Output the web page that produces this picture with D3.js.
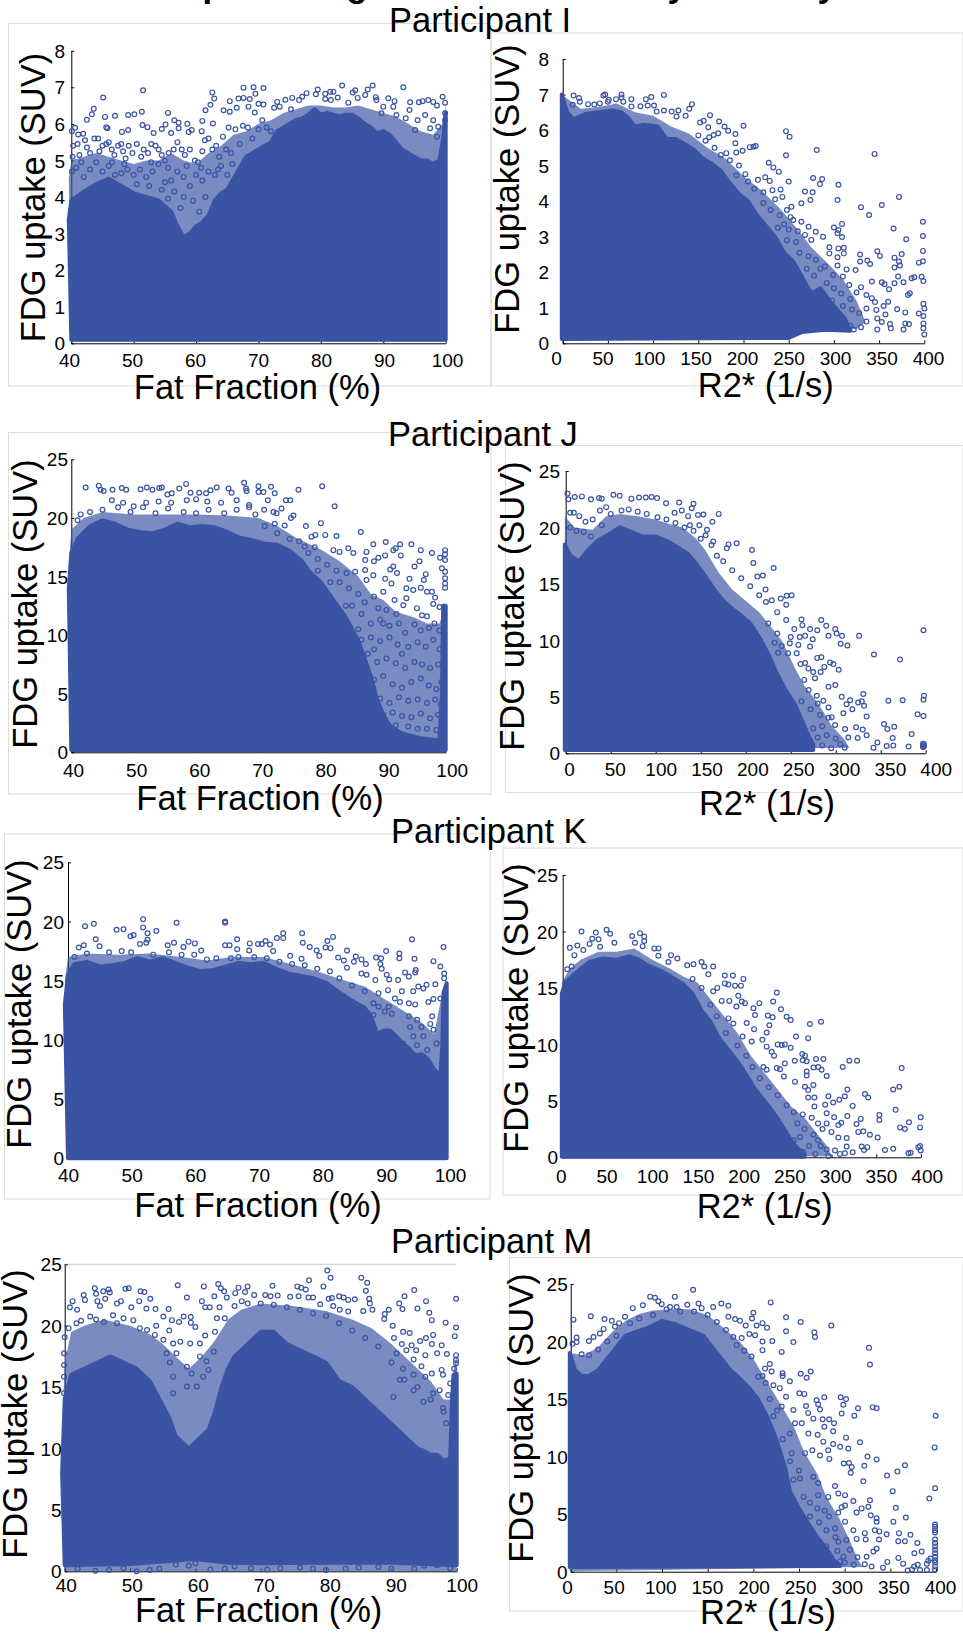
<!DOCTYPE html>
<html><head><meta charset="utf-8">
<script src="https://cdn.jsdelivr.net/npm/d3@7"></script>
<style>html,body{margin:0;padding:0;background:#fff;overflow:hidden}svg{display:block}text{font-family:"Liberation Sans",Arial,sans-serif;fill:#000}</style>
</head><body><svg id="c" width="963" height="1634"></svg>
<script>
const fatTicks=[40,50,60,70,80,90,100];
const r2Ticks=[0,50,100,150,200,250,300,350,400];
const suvTicksI=[0,1,2,3,4,5,6,7,8];
const suvTicksOther=[0,5,10,15,20,25];
const participantNames=["Participant I","Participant J","Participant K","Participant M"];
const titleFragments=["p","g","y","y"];

// dense (fully overplotted) regions: upper edge and floor
const iFatEdge=[[39.6,3.4],[40,3.9],[42,4.15],[44,4.35],[46,4.5],[48,4.3],[50,4.1],[52,4.0],[54,3.9],[56,3.6],[57,3.2],[58,2.9],[59,3.0],[60,3.2],[61,3.3],[62,3.5],[63,3.9],[64,4.1],[65,4.2],[66,4.5],[67,4.8],[68,5.1],[69,5.2],[70,5.3],[71,5.4],[72,5.5],[73,5.8],[74,5.9],[75,6.0],[76,6.1],[77,6.15],[78,6.25],[79,6.4],[80,6.25],[81,6.3],[82,6.25],[83,6.2],[84,6.25],[85,6.25],[86,6.15],[87,6.0],[88,5.9],[89,5.75],[90,5.8],[91,5.7],[92,5.5],[93,5.3],[94,5.2],[95,5.1],[96,5.0],[97,5.0],[98,4.9],[99,5.0],[99.6,5.6],[100,6.3]];
const iFatFloor=[[100,0.1],[40,0.1]];
const iR2Edge=[[-1,7.0],[5,6.5],[12,6.3],[25,6.45],[40,6.5],[55,6.55],[65,6.5],[72,6.35],[80,6.1],[90,6.15],[105,6.1],[115,5.75],[125,5.75],[135,5.6],[145,5.45],[155,5.2],[165,5.05],[175,4.85],[185,4.5],[195,4.2],[205,4.0],[215,3.6],[225,3.3],[235,3.0],[245,2.55],[255,2.3],[265,1.85],[275,1.4],[285,1.55],[295,1.2],[305,0.9],[312,0.7],[318,0.35]];
const iR2Floor=[[290,0.38],[265,0.32],[250,0.15],[-1,0.12]];
const jFatEdge=[[39.6,14],[40,17],[41,18.2],[43,19.3],[45,19.8],[47,19.5],[49,19],[51,18.8],[53,18.7],[55,19],[57,19.5],[59,19.2],[61,19.3],[63,19.2],[65,18.8],[67,18.3],[69,18.1],[71,17.8],[73,17.7],[75,17.2],[77,16.3],[78,15.5],[79,15],[80,14.5],[82,13],[84,11.5],[85,10.5],[86,9.5],[87,8],[88,6.5],[89,4.5],[90,3.2],[91,2.3],[93,1.6],[96,1.2],[99,1],[99.4,5],[99.6,12.5],[100,12.5]];
const jFatFloor=[[100,0.2],[40,0.2]];
const jR2Edge=[[-1,18.5],[5,17.5],[15,17],[25,18],[35,18.8],[50,19.5],[60,20],[70,19.7],[85,19.2],[100,19.2],[115,18.7],[125,18.2],[135,17.7],[145,16.8],[155,15.7],[165,14.5],[175,13.5],[185,12.8],[195,12.2],[205,11.5],[215,10.3],[225,8.8],[235,7],[245,5.5],[255,4.3],[262,3],[270,1.5],[275,0.8]];
const jR2Floor=[[275,0.3],[-1,0.3]];
const kFatEdge=[[39.5,13],[40,15.5],[41,16.4],[43,16.6],[45,16.2],[47,16.3],[49,16.5],[51,16.9],[53,16.6],[55,16.9],[57,16.5],[59,16.1],[61,15.8],[63,15.9],[65,16.2],[67,16.5],[69,16.4],[71,16.5],[73,16],[75,15.6],[77,15.4],[79,15.2],[81,14.8],[83,14],[85,13.3],[87,12.7],[88,12],[89,10.5],[90,10.8],[91,10.8],[92,10.3],[93,9.7],[94,9.3],[95,8.7],[96,8.8],[97,8.4],[98,7.5],[99,7],[99.3,9.5],[99.5,14],[100,14.8]];
const kFatFloor=[[100,0],[40,0]];
const kR2Edge=[[-1,14.5],[3,15.5],[10,16],[20,16.7],[30,17.3],[45,17.6],[60,17.5],[75,17.8],[85,17.5],[95,17],[110,16.5],[125,15.8],[135,15.3],[145,14.5],[155,13],[165,12],[175,10.5],[185,9.5],[195,8.5],[205,7.3],[215,6],[225,5],[235,4],[245,2.8],[255,1.5],[262,0.8],[270,0.3]];
const kR2Floor=[[270,0.05],[-1,0.05]];
const mFatEdge=[[39.6,8],[40,14],[41,16],[43,16.5],[45,17],[47,17.5],[49,17],[51,16.5],[53,15.5],[55,13.5],[56,12.5],[57,11],[58,10.5],[59,10],[60,10.5],[61,11],[62,11.5],[63,13],[64,15],[65,16.5],[66,17.5],[68,18.5],[70,19.5],[72,19.5],[74,18.5],[76,18],[78,17.5],[80,17],[82,15.5],[84,15],[86,14],[88,13],[90,12],[92,11],[93,10.5],[94,10],[95,9.8],[96,9.5],[97,9.5],[98,9],[99,9.2],[99.3,14],[99.5,16],[100,16.1]];
const mFatFloor=[[100,0.5],[90,0.7],[80,0.7],[70,0.65],[65,0.7],[60,1],[55,0.8],[50,0.6],[40,0.5]];
const mR2Edge=[[-1,19],[5,17.5],[12,17],[20,17],[30,17.5],[40,18.5],[50,19.5],[60,20.5],[70,20.8],[85,21.2],[100,21.8],[115,21.5],[130,21],[145,20.5],[155,19.5],[165,18.5],[175,17.5],[185,16.8],[195,16],[205,15],[215,13.5],[225,11.5],[235,9],[240,7],[250,5.5],[260,4.2],[270,3],[280,2],[290,0.8],[295,0.6]];
const mR2Floor=[[295,0.5],[-1,0.4]];

// speckled, partly overplotted regions around the dense ones
const iFatCloud=[[39.6,4.5],[40,5.0],[42,5.1],[44,5.2],[46,5.1],[48,5.0],[50,4.9],[52,5.0],[54,5.0],[56,5.2],[58,5.0],[60,4.9],[62,5.2],[64,5.4],[66,5.7],[68,5.8],[70,6.0],[72,6.1],[74,6.3],[76,6.4],[78,6.5],[80,6.5],[82,6.45],[84,6.45],[86,6.5],[88,6.4],[90,6.3],[92,6.2],[94,6.0],[96,5.8],[98,5.7],[99.5,6.0],[100,6.5],[100,0.05],[40,0.05]];
const iR2Cloud=[[-1,7],[20,6.6],[40,6.65],[60,6.75],[80,6.5],[100,6.4],[120,6.1],[140,5.9],[160,5.5],[180,5.2],[200,4.7],[220,4.3],[240,3.8],[260,3.2],[275,2.7],[295,2.2],[310,1.8],[325,1.2],[335,0.6],[325,0.4],[-1,0.1]];
const jFatCloud=[[39.6,16],[40,19],[42,20],[45,20.5],[50,20.3],[55,20.3],[60,20.3],[65,20.2],[70,20],[73,19.3],[76,18.3],[80,17.3],[83,16.3],[86,15],[88,13.5],[90,13],[92,12],[95,11.5],[97,11],[99,11],[100,12.5],[100,0.1],[40,0.1]];
const jR2Cloud=[[-1,21],[10,20],[30,19.8],[45,21],[60,21.2],[80,21],[100,20.7],[115,20.3],[130,20],[145,19],[155,18],[170,16],[185,14.5],[200,13.5],[215,12.5],[225,11.5],[240,10],[255,7.5],[265,6],[280,4.5],[295,2.5],[310,1.2],[315,0.5],[-1,0.2]];
const kFatCloud=[[39.5,15],[40,17],[43,17.3],[48,17.2],[53,17.3],[58,17],[62,16.7],[66,17],[71,17],[76,16.3],[80,15.7],[84,15],[87,14.5],[90,13.5],[93,12.5],[96,11.5],[98,10.5],[99.5,14.5],[100,0],[40,0]];
const kR2Cloud=[[-1,15.5],[8,16.7],[20,17.5],[40,18.2],[60,18.2],[80,18.5],[100,17.5],[120,16.7],[135,16],[150,15.5],[165,14],[180,12.5],[195,11],[210,9],[225,7.5],[240,6],[255,4.5],[270,3.5],[285,2],[295,1],[300,0.1],[-1,0.02]];
const mFatCloud=[[39.6,11],[40,17],[41,19.5],[43,20],[46,20.5],[50,20],[53,19.3],[55,18.5],[57,17.5],[59,16.5],[61,17.5],[63,18.8],[65,20.5],[67,21.3],[70,21.8],[75,21.6],[80,21.2],[84,20.5],[87,19.8],[90,18.5],[93,17],[96,15.5],[98,14],[99,14],[99.5,16.2],[100,17.7],[100,0],[40,0]];
const mR2Cloud=[[-1,19],[15,18.8],[30,19.5],[45,20.8],[60,21.8],[75,22.4],[90,22.7],[110,22.8],[130,22.8],[150,22.3],[170,21],[185,20],[200,18.5],[215,16.5],[230,14.5],[245,12.5],[255,10.5],[270,8.5],[280,6.5],[295,4.5],[305,2.8],[315,1],[320,0.4],[-1,0.05]];

// individually visible circles
const iFatPoints=[[51.5,6.92],[45.1,6.72],[43.6,6.41],[43.3,6.26],[42.5,6.11],[45.4,6.19],[47,6.22],[49.1,6.24],[50.1,6.26],[51.3,6.33],[45.6,5.91],[45.8,5.88],[40.6,5.89],[40.1,5.8],[41.1,5.71],[41.9,5.73],[48.1,5.78],[49.1,5.83],[51.4,5.97],[52.2,5.91],[53.2,5.75],[54.5,5.86],[55.1,5.98],[55.5,6.3],[56.5,6.1],[57.2,6.03],[57.2,5.88],[58.6,6.0],[59.3,5.83],[58.8,5.78],[61,6.08],[60.9,5.8],[61.5,6.37],[62.3,6.52],[62.6,6.86],[62.9,6.69],[62.7,6.01],[64.4,6.37],[65.4,6.62],[65.4,6.33],[66.5,6.44],[66.8,6.69],[67.6,6.99],[67.6,6.71],[68.6,6.68],[69.2,7.0],[69.5,6.82],[70.8,6.98],[70.8,6.53],[70,6.55],[68.4,6.47],[69.4,6.31],[72.5,6.44],[73,6.6],[73.4,6.47],[74.3,6.66],[75.4,6.71],[75.2,6.4],[76.5,6.65],[77,6.74],[77.7,6.84],[79.2,6.81],[79.5,6.94],[80.7,6.82],[81.5,6.88],[82,6.88],[81.6,6.65],[80.7,6.68],[82.7,6.72],[83.4,7.05],[84.4,6.58],[85.1,6.86],[85.5,6.92],[85.9,6.71],[87.1,6.79],[87.5,6.94],[88.3,7.05],[88.8,6.73],[88.9,6.65],[90.8,6.7],[91.8,6.62],[91.6,6.47],[93.2,7.0],[94.3,6.59],[95.7,6.59],[96.3,6.62],[97.2,6.65],[98,6.6],[98.6,6.5],[99.5,6.74],[99.9,6.58],[99.9,6.29],[99.9,6.1],[95.5,6.1],[96.7,6.24],[94.2,6.38],[93.6,6.15],[92.1,6.24],[90,6.47],[89.7,6.29],[98,6.1],[98.8,5.92],[97.5,5.88],[95.1,5.83],[98.6,5.65],[40.3,5.4],[41,5.45],[40.2,5.1],[41.3,5.15],[40.1,4.7],[40.8,4.8],[41.6,4.95],[42.2,5.55],[42.5,5.35],[43,5.2],[43.7,5.6],[44.3,5.6],[44.5,5.25],[45,5.4],[45.6,5.45],[46,5.5],[46.5,5.3],[46.9,5.15],[47.5,5.4],[48,5.45],[48.3,5.25],[48.7,5.05],[49.2,5.4],[49.8,5.2],[50.5,5.45],[51.2,5.1],[51.6,5.3],[52.3,5.2],[52.8,5.45],[53.5,5.4],[54,5.3],[54.5,5.15],[55,5.0],[55.6,5.2],[56,5.75],[56.4,5.3],[57,5.5],[57.7,5.3],[58.2,5.15],[59,5.3],[59.8,5],[60.3,4.95],[61,5.25],[61.4,5.55],[62,5.6],[62.6,5.3],[63.2,5.4],[63.7,5.1],[64.3,5.65],[64.8,5.3],[65.2,5.9],[65.6,5.2],[66.3,5.85],[67,5.45],[67.5,5.95],[68.3,5.9],[69,5.6],[70,5.85],[70.6,6.1],[71.3,5.9],[72,5.8],[42,4.55],[43,4.75],[44,4.95],[45,4.7],[46,4.85],[47,4.6],[48,4.65],[49,4.75],[50,4.6],[51,4.75],[52,4.55],[53,4.7],[54,4.9],[55,4.4],[56,4.45],[57,4.7],[58,4.55],[59,4.3],[60,4.6],[61,4.45],[62,4.7],[63,4.6],[64,4.85],[65,4.6],[54.5,4.2],[56.5,4.15],[58,4],[59.5,3.9],[60.5,3.6],[61.5,4.0],[57.5,3.7],[55.5,3.95],[52.5,4.3],[50.5,4.35],[46.5,4.95],[48.5,4.9],[52.8,4.95],[55.5,4.8],[58.5,4.85],[60.8,4.8],[63.5,4.75],[65.8,4.9]];
const iR2Points=[[12,6.97],[18,6.9],[11,6.71],[19,6.8],[28,6.73],[35,6.72],[41,6.75],[45,6.97],[47,7.0],[51,6.85],[50,6.8],[59,6.87],[65,7.0],[65,6.92],[67,6.8],[76,6.87],[76,6.66],[86,6.67],[92,6.87],[98,6.93],[94,6.69],[101,6.69],[112,6.99],[104,6.52],[112,6.55],[120.5,6.52],[128,6.55],[126,6.38],[136,6.4],[140,6.6],[143,6.73],[163,6.42],[156,6.26],[152,6.21],[161,6.08],[173,6.24],[172,5.91],[179,6.1],[183,5.98],[191,5.89],[200,6.12],[191,5.63],[167,5.86],[162,5.8],[207,5.52],[211,5.53],[213.5,5.55],[199,5.42],[192,5.37],[181,5.35],[247,5.97],[251,5.81],[247,5.29],[281,5.44],[345,5.33],[228,5.08],[233,4.95],[239,4.83],[250,4.55],[224,4.67],[229,4.57],[216,4.6],[202,4.76],[192,4.73],[277,4.65],[287,4.62],[284.5,4.48],[305,4.46],[304,4.03],[330,3.83],[339,3.61],[353,3.89],[372,4.12],[268,4.27],[276.5,4.25],[274,4.03],[264,3.94],[253,3.84],[241,4.33],[232,4.31],[243,4.12],[248,3.75],[264,3.42],[255,3.47],[272,3.28],[280,3.14],[288,3.0],[275,2.91],[300,3.26],[305,3.19],[309,3.36],[304,3.1],[309,2.99],[366,3.23],[380,2.93],[398.5,3.42],[398.5,3.02],[398.5,2.6],[398.5,2.31],[394,2.27],[348,2.59],[351,2.46],[367,2.41],[375,2.51],[372,2.3],[367,2.13],[373,2.19],[329,2.5],[329,2.3],[337,2.33],[340,2.23],[295,2.7],[305,2.67],[311,2.69],[311,2.53],[295,2.53],[304,2.42],[290,2.16],[304,2.19],[324,2.06],[314,2.08],[299,1.92],[310,1.88],[371,1.88],[377,1.72],[386,1.83],[389,1.86],[397,1.87],[399,1.75],[367,1.69],[342,1.74],[353,1.72],[356,1.66],[361,1.52],[330,1.58],[317,1.64],[325,1.43],[382,1.36],[384,1.41],[336,1.36],[342,1.27],[345.5,1.16],[360,1.17],[355,1.05],[399,1.11],[400,0.98],[370,0.96],[379,0.87],[394,0.84],[357,0.81],[399,0.77],[347,0.94],[336,0.98],[348,0.7],[353,0.6],[362,0.54],[379,0.56],[383,0.54],[399,0.56],[399,0.42],[400,0.25],[377,0.39],[348,0.39],[363,0.42],[330,0.45],[322,0.39],[336,0.61],[150,5.85],[158,5.7],[168,5.5],[175,5.3],[185,5.15],[195,5.0],[205,4.55],[212,4.35],[222,4.25],[235,4.05],[222,3.95],[230,3.75],[240,3.6],[252,3.55],[260,3.15],[250,3.2],[245,3.35],[238,3.25],[268,3.05],[258,2.85],[248,2.9],[262,2.55],[272,2.45],[280,2.35],[285,2.1],[270,2.1],[278,1.9],[292,1.7],[300,1.55],[308,1.4],[318,1.25],[288,1.35],[298,1.2],[310,1.05],[320,0.95],[328,0.85],[300,0.75],[312,0.6],[318,0.5],[298,0.5],[285,0.85],[265,0.9],[275,0.55]];
const jFatPoints=[[42.3,22.6],[44.4,22.75],[44.7,22.4],[45.2,22.3],[46.6,22.4],[48.1,22.55],[48.8,22.4],[51.1,22.45],[52.1,22.6],[53,22.4],[54.1,22.55],[54.5,22.6],[55.4,22],[56.1,22.1],[57.3,22.5],[58.4,22.9],[59.1,22.15],[60.5,22.15],[61.6,22.1],[62.3,22.35],[63.3,22.6],[65.2,22.5],[65.7,22.15],[67.7,23],[68,22.5],[68.1,22.3],[70,22.7],[70,22.2],[70.8,22.2],[72,22.65],[72.6,22.1],[76.4,22.4],[80.2,22.7],[82.2,21],[74.4,21.5],[75.1,21.5],[73.7,20.8],[71.5,21.5],[70.9,20.7],[72.4,20.5],[72.9,20.4],[75.6,20.2],[75.2,20],[80,19.55],[77.6,19.3],[74.2,19.35],[72.6,19.5],[86.4,18.8],[90.4,17.95],[88.4,17.75],[92.7,17.75],[94.5,17.75],[92,17.4],[91.6,17.25],[96,17.25],[97.8,17],[92.8,16.8],[90.3,16.8],[89.2,16.6],[88.5,16.3],[95.8,16.3],[95,15.85],[91.6,15.85],[91.1,15.6],[99.1,16.6],[99.9,17.25],[99.9,16.9],[99.9,16.4],[99.4,15.7],[99.9,15.4],[99.9,14.85],[99.9,14.4],[99.9,14.05],[96.8,15.2],[96.5,14.7],[94.2,14.8],[92.2,15.3],[90.3,14.8],[91.3,14.4],[88.4,15.1],[85.2,17],[84.4,17.4],[82.5,18.45],[80.7,18.55],[79.1,18.55],[78.5,18.4],[77.4,17.55],[82,17.25],[83,17.1],[85.5,15.4],[84.1,15.3],[87.3,17.1],[87.1,16.4],[87.1,15.55],[87.3,14.7],[93.7,14],[94.8,13.85],[96,14.05],[97,13.7],[97.8,13.7],[98.3,13.2],[93.7,13.15],[93.2,12.55],[98,12.65],[95.4,12.3],[96.2,11.7],[97,11.6],[99,12.4],[92.1,11.8],[90.5,12.15],[89.2,12.3],[85,12.5],[86.5,11.8],[88,11],[89.5,11.3],[91,10.8],[92.5,11],[93.5,10.2],[95,10.9],[96,10.4],[97.3,10.6],[98.2,11],[99,10.4],[88,9.8],[89.5,9.5],[91,9.8],[92.3,9.2],[94,9],[95.5,9.4],[96.8,9],[98,9.6],[99,8.8],[87.5,8.4],[89,7.7],[90.5,8],[92,7.6],[93.5,7.2],[95,7.7],[96.2,7.5],[97.5,7.2],[98.8,7.5],[87,6.4],[88.5,6.2],[90,6.5],[91.5,5.8],[93,5.5],[94.5,6],[96,6.3],[97.3,5.7],[98.5,5.4],[99.3,6],[88,4.7],[89.5,4.6],[91,4.2],[92.5,4.7],[94,4.4],[95.5,4.5],[97,4.2],[98.3,4.5],[99.2,4.1],[90,3.2],[91.5,3.4],[93,3.1],[94.5,3],[96,3.3],[97.5,2.9],[98.8,3.2],[92,2.3],[94,2.2],[95.5,2],[97,2],[98.5,1.9],[99.5,2.5],[78,17],[79.5,16.5],[81,16],[82.5,15.5],[83,14.5],[84.5,14],[86,13.5],[81.5,14.5],[79.5,15.5],[84,12.5],[86,10.5],[87,12.8],[88.5,13.3],[90,13.7],[91.8,13],[88.5,8.8],[90,11],[93,8.4],[86.5,9.6],[41,19.8],[41.5,20.3],[43,20.5],[45,20.7],[47.5,20.9],[49.5,20.5],[51.5,20.9],[53.5,20.4],[55.5,20.8],[58,20.5],[60,20.4],[62,20.7],[64.5,20.4],[66.5,20.7],[68.5,20.9],[69.5,20.3],[71,19.3],[73,18.7],[75,18.2],[76.5,18],[79,17.5],[46.5,21.5],[48.3,21.3],[50,21],[52,21.3],[54,21.4],[56,21.3],[58.5,21.5],[60,21.6],[61.8,21.4],[64,21.3],[66.5,21.5],[68.5,21.1]];
const jR2Points=[[2,23],[3,22.5],[10,22.7],[18,22.75],[28,22.5],[37,22.6],[40,22.55],[53,22.9],[60,22.8],[73,22.55],[81.5,22.65],[89,22.65],[95.5,22.7],[101.5,22.6],[111.5,22.15],[126,22.2],[142,22.1],[140,21.7],[129,21.5],[121,21.3],[136,21],[147,21.1],[153,21.15],[170,21.2],[163,20.5],[148.5,20.2],[138,20.2],[157,19.8],[155.5,19.3],[164,18.75],[162,18.45],[190,18.6],[181,18.5],[179,18.15],[207,18],[208.5,16.85],[231,16.4],[219,15.75],[213,15.65],[222,14.5],[239,13.7],[245.5,13.95],[251,14],[245,13.15],[229,13.55],[222.5,13.4],[262,11.85],[284,11.8],[263,11.35],[271.5,11],[279.5,10.9],[289.5,11.3],[299.5,11],[301,10.6],[307,10.4],[292,10.4],[326,10.4],[397.5,10.9],[274.5,10.1],[266,10.4],[260,10.3],[254,11],[305.5,9.7],[313,9.55],[271.5,9.45],[258.5,9.6],[249,9.75],[247,8.85],[342.5,8.75],[371.5,8.3],[279.5,8.45],[284,8.5],[256.7,8.85],[236,8.9],[266,8],[261,7.9],[293.7,8.05],[297.4,7.9],[287.4,7.65],[303.3,7.4],[283.3,7.2],[275,7.2],[269.6,7.5],[277,6.65],[292,5.9],[299.6,6.05],[306.7,5],[330.7,5.25],[316,4.7],[329,4.6],[325,4.5],[312,4.35],[331.5,4.2],[318.5,3.9],[334.4,3.25],[358.5,4.65],[374.4,4.7],[398,5.1],[397.5,4.75],[391,3.45],[397.5,3.3],[353.7,2.6],[365,2.35],[357.4,2.15],[322.6,2.3],[330,2.1],[334.4,1.6],[384.4,1.7],[363.3,1.35],[324.4,1.35],[342,0.5],[346.3,0.95],[356.7,0.65],[364,0.68],[381,0.6],[397,0.55],[397,0.7],[397,0.85],[398,0.6],[398,0.8],[314,1.4],[310.4,2.15],[299.3,2.5],[295.5,3.2],[308.5,3.55],[282.6,3.4],[279,5.1],[286.3,4.65],[292,4.05],[292,3.15],[5,21.3],[9,21.3],[15,21],[22,20.5],[30,20.7],[38,21.5],[45,21.8],[50,21.2],[62,21.5],[70,21.6],[80,21.4],[90,21.2],[102,20.9],[112,20.7],[122,20.4],[132,20],[142,19.7],[150,19],[5,20],[12,19.7],[20,19.6],[28,19.2],[40,20.2],[168,17.5],[175,17],[185,16.2],[195,15.5],[205,14.8],[215,14],[235,12.5],[245,11.8],[225,11.5],[235,10.6],[250,10.3],[240,9.5],[232,9.8],[265,6.5],[270,5.6],[280,4.4],[272,3.9],[262,4.6],[285,2.4],[275,2.2],[290,1.6],[300,1.3],[305,0.8],[285,0.7],[310,0.5],[295,0.45],[272,0.8],[280,1.4]];
const kFatPoints=[[42.7,19.6],[44.1,19.8],[47.7,19.3],[48.8,19.35],[51.9,20.2],[51.9,19.5],[49.9,18.75],[50.4,18.85],[44.4,18.5],[54,19.2],[52.6,19],[52.6,18.45],[57.2,19.9],[64.9,20],[64.9,19.9],[42.5,18],[41.7,17.8],[45,17.9],[51.4,18.1],[52.4,18.2],[55.8,18],[56.8,18.2],[58.3,17.85],[59.1,18.3],[60.1,18.15],[61.1,17.55],[64.9,18],[65.6,18],[66.8,18.5],[66.8,17.65],[68.8,18.15],[68.7,17.55],[70.1,18.1],[70.7,18.1],[71.3,18.35],[72,18.05],[73.1,18.6],[74.1,19],[74.1,18.6],[72.5,17.5],[77.1,19],[77.2,18.2],[78.3,17.85],[79.4,17.55],[81.1,18.35],[82,18.7],[80.8,17.8],[81.6,17.75],[84.2,17.55],[82.8,16.95],[83.7,16.7],[75.2,17.1],[77,16.85],[79.8,17.1],[85.6,17.05],[86.5,16.8],[85.3,16.6],[87.2,16.4],[84.2,16.1],[88.8,16.95],[89.6,16.9],[89.5,16.4],[89.7,16],[90.4,17.5],[92.5,17.3],[92.5,16.9],[94.5,18.5],[94.9,16.85],[95.1,15.9],[95,15.7],[93.4,15.7],[94,15.35],[97.9,16.65],[99,16.2],[99.5,17.85],[99.6,15.6],[99.6,15.2],[92.3,15.05],[90.9,15.1],[90.5,15.5],[88.7,15.05],[87.3,15.5],[86.5,15.6],[98.2,14.7],[96.8,14.65],[96.3,14.35],[95.5,14.5],[94.7,14.1],[92.9,14.1],[90.7,14.2],[89.2,13.95],[97.1,13.2],[97.9,13.45],[99,13.5],[95,13],[94,13.1],[92.6,13.2],[91.8,13.5],[90.8,12.8],[91.3,12.2],[90.2,12.4],[89.2,12.8],[88.4,13.1],[97.7,12],[97.4,11.35],[97.9,10.85],[96,11.1],[96.3,10.3],[95.3,11.7],[94,12],[94.2,11.1],[88.4,12.1],[87.6,11.4],[94.7,10.3],[93.1,9.7],[96.9,9.15],[95.3,9.55],[98.4,9.7],[41,17],[43,17.3],[46.5,17.4],[48.5,17.5],[50,17.4],[53.5,17.2],[56,17.4],[58,17.2],[60,17.2],[62,16.8],[63.5,16.9],[65.8,16.9],[67,17],[69.5,17],[71.5,16.9],[73.5,16.6],[75.5,16.4],[77.5,16.3],[79.5,16],[81.5,15.8],[83,15.2],[85,14.6],[87,14.1]];
const kR2Points=[[21,20],[37,19.9],[49,20.15],[53,19.8],[77.4,19.6],[86.3,19.85],[91,19.55],[80.7,19],[57.7,19],[33,19.35],[40,19.3],[30,18.9],[8,18.55],[16.4,18.75],[23,18.35],[41.7,18.65],[91,19.15],[89.3,18.7],[102.3,18.5],[107,18.5],[106.8,17.85],[13,17.9],[5,16.65],[10,16.9],[121,17.9],[128,17.6],[118,17.3],[155,17.3],[168,16.9],[158,16.9],[146,17.1],[139,17],[162.6,16.2],[181,16.1],[190,16.1],[201.7,15.8],[181,15.4],[185,15.3],[192.4,15.2],[199,15.2],[172.6,15],[168,14.7],[239,14.6],[196,14.3],[200,13.8],[177.5,13.85],[186,13.85],[203.5,13.65],[194,13.35],[219.5,13.65],[213,13.2],[235,13.8],[243.7,13.1],[214.7,12.6],[229,12.55],[234.4,12.4],[250,12.45],[254.5,12.15],[230.7,11.7],[227.7,11.05],[213.6,11.35],[276,11.8],[288.4,12],[185,12.3],[190.5,11.85],[205.4,11.9],[260.5,10.7],[274,10.55],[200.9,10.7],[211,10.25],[222.9,10.4],[240,10],[244.5,9.95],[248,10],[254.5,9.7],[227.7,9.8],[233.3,9.35],[236,9],[267.5,9.15],[270.5,9],[268,8.6],[272.4,8.5],[282.8,8.7],[291,8.7],[320,8.55],[328.6,8.55],[312.6,8],[378.4,7.9],[259,8.55],[248,8.3],[239,7.9],[242.6,7.8],[224,8],[227.7,7.75],[280,7.95],[285.4,8],[289,7.75],[272.4,7.6],[272.4,7.25],[294.7,7.2],[247,7.15],[279.8,6.4],[259.3,6.7],[270.5,6.25],[274,5.95],[317.8,6],[315,5.4],[296.6,5.4],[274,5.3],[281,5.3],[369,6],[375.8,6.25],[337.5,5.6],[341,5.3],[308.8,5.1],[302,4.85],[293,4.65],[323.7,4.55],[371.7,4.2],[281,4.5],[294.7,3.9],[303,3.55],[317.8,3.65],[353.5,3.75],[353.5,3.3],[399.6,3.55],[332.7,3.4],[328,2.95],[386.6,3.1],[294.7,3],[307.7,2.85],[311,3.05],[398.9,2.65],[376.6,2.65],[382,2.5],[335.6,2.3],[343,2],[351.6,1.75],[330,2.25],[307.7,1.75],[317,1.7],[300,2.25],[333.8,0.95],[340,0.9],[336.4,0.65],[359.8,0.65],[369,0.75],[386,0.35],[388.5,0.4],[397,0.9],[398.9,1],[399.6,0.6],[323.7,0.45],[317,0.95],[296.6,0.12],[304,0.6],[294.7,0.7],[315,0.35],[309.6,0.3],[262,3],[270,2.5],[280,2],[285,1.5],[275,1],[288,1],[258,1.5],[268,0.5],[282,0.3],[265,1.8],[290,2.5],[205,9],[212,8],[220,7],[230,6.2],[240,5.5],[250,4.6],[258,4],[268,3.8],[278,3.5],[285,3],[195,9.9],[182,11],[172,12.5],[165,13.5],[155,15],[145,15.8]];
const mFatPoints=[[44.6,23.05],[44.8,22.6],[45.9,22.8],[46.7,22.95],[46.9,22.7],[46.2,22.2],[42.9,22.5],[43.1,22.1],[41.2,22],[40.8,21.5],[41.9,21.3],[45,22],[45.4,21.6],[48,21.8],[48.6,22],[49.3,23],[49.8,23.05],[51.6,22.8],[52.2,22.75],[53.1,22.2],[51.4,22],[50.2,21.5],[52.5,21.4],[53.9,21.35],[55.9,21.35],[55.1,20.75],[56.4,20.45],[57.3,23.3],[58.7,22.3],[61.3,23.2],[61,22],[58.2,20.75],[59.3,20.7],[57.5,20.3],[59.3,20.25],[60,19.9],[62.9,22.4],[63.5,23.4],[63.9,23.05],[64.4,22.8],[64.8,22.3],[61.5,21.5],[62.2,21.5],[63.7,21.5],[63.3,20.6],[66.6,23.1],[66.1,22.65],[68,23.2],[67.6,22.75],[67.1,22],[69,22.5],[70.7,22.5],[71.8,23.25],[71.5,22.4],[72.6,22.45],[74.5,22.35],[75.6,23.2],[76.2,23.1],[76.9,22.95],[77.4,23.7],[75.8,22.4],[77.3,22.3],[78,22.3],[79.6,23.2],[80.2,24.5],[80.7,23.9],[80.4,22.2],[80.9,22.25],[82,22.4],[82.7,22.3],[85.4,23.9],[86.3,23.5],[86.1,22.85],[86.6,22.2],[84.4,22.15],[83.4,22.1],[81.1,21.6],[79.1,21.75],[82.1,21.3],[83.4,21.15],[85.7,21.2],[87.1,21.3],[86.7,21.8],[89,20.95],[89.6,21.3],[88.9,20.55],[91.2,21.8],[92,22.4],[91.7,21.35],[93.5,22.9],[94,21.4],[95.3,22],[95.8,21.05],[96.2,20.45],[99.9,22.2],[99.9,19.85],[98.3,20.25],[90.2,20],[90.4,19],[91.8,19.5],[92.8,19.4],[96.4,19.25],[99.7,19.15],[95.3,19],[94.4,18.75],[96.2,18.5],[97.7,18.4],[93.1,18.4],[91.6,18.5],[90.8,17.75],[92.3,18],[93.8,18],[98.5,17.7],[99.9,17.6],[99.9,17.2],[99.9,16.95],[97,17.75],[95.2,17.6],[93.4,17.25],[91.8,16.5],[94.6,16.7],[96.2,16.1],[97.7,16.4],[99.6,16.5],[97.9,16],[95.2,15.85],[93.4,16],[91.3,15.6],[99,15.3],[97.4,14.75],[96.4,14.5],[94.9,13.8],[93.4,14.75],[90.3,14.2],[97.9,13.3],[98.7,14.35],[98.4,12.05],[57.7,18.7],[56.6,18.55],[59.2,18.55],[60.7,18.55],[57.1,17.75],[58.7,16.65],[60.7,17.5],[61.7,17.1],[62.8,17.9],[56.1,17],[56.6,15.85],[59.4,16.1],[61.2,15.85],[56.6,14.5],[58.7,15.05],[60.2,15.05],[62,16.4],[55.6,17.75],[55.1,18.85],[53.8,19.25],[52.6,19.65],[50.5,20.45],[47.4,20.85],[49,20.6],[43.9,20.75],[41.8,20.2],[40.6,19.8],[40,19.05],[39.9,17.75],[39.9,16.8],[39.9,15.85],[39.9,14.5],[42.5,20.4],[44.8,20.5],[46,20.3],[48,20.2],[51.5,19.8],[54,20],[56,19.6],[61.5,19.2],[63,19.5],[64.5,20.6],[66,21.6],[68,21.8],[70,21.8],[72,21.7],[74,21.5],[76,21.3],[78,21],[80,20.8],[82,20.2],[84,19.6],[86,19],[88,18.3],[90,17],[92,15.6],[94,15],[96,14],[98,13],[42,0.2],[44.7,0.05],[46.8,0.1],[49,0.25],[51,0],[53,0.1],[54.5,0.2],[57,0.55],[59,0.45],[60,0.65],[62.3,0.15],[64.5,0.2],[66,0.4],[68.5,0.25],[71,0.15],[73,0.25],[76,0.3],[78,0.2],[80,0.1],[83,0.2],[85,0.3],[88,0.35],[90,0.2],[93.5,0.2],[95,0.45],[97,0.5],[99,0.25]];
const mR2Points=[[3,21.9],[22,22.2],[37,21.95],[45,21.8],[6.5,20.35],[6.5,19.95],[2,19.8],[20,20.05],[25,20.4],[32,20.7],[36,21.1],[48.5,21.3],[53,21.6],[59.5,22.15],[68,22.9],[79,23.15],[87,23.9],[92.3,23.8],[96,23.5],[99.6,23.25],[108.8,23],[114,23.9],[116,23],[127.7,23.2],[134,24.5],[140,23.3],[143.4,22.9],[156,23],[165,23.3],[172.6,23.1],[172.6,22.15],[180,21.95],[185.4,21.8],[191.6,21.4],[200,22.5],[198.5,22],[203.6,21.4],[210,21.6],[215,21.2],[219,23.4],[235.8,22.1],[235.8,20.9],[251.8,21.7],[220.8,20.05],[243.8,19.95],[266.8,20.8],[267.5,20.4],[285.4,21.4],[326.6,19.45],[327.7,18],[231,19.1],[210,20],[201.8,20.55],[195.6,20.65],[187.2,20.3],[181.8,19.7],[210,19.25],[218,18.05],[212.8,17.65],[220,17.4],[232,17.25],[232,17],[240,16.55],[251.8,17.2],[262.8,17.4],[258.4,16.85],[205.5,16.95],[213.5,16.4],[222,16.2],[229,15.95],[235.8,15.2],[250.4,15.5],[255.8,15.45],[269.3,14.9],[277.7,15.15],[295.6,15.15],[301.5,15],[298.5,14.5],[296.7,13.75],[310.6,13.55],[314.6,14.2],[330.6,14.3],[335,14.2],[399.6,13.55],[398.5,10.8],[399,7.25],[392.7,6.35],[271,14.55],[273,14.1],[257.7,14.4],[260,13.8],[265.7,13.3],[275.9,13.25],[283,13.25],[288.3,12.9],[277.7,12.6],[287.4,12.2],[243.8,14.05],[231,14.35],[222,13.5],[245.6,12.9],[253,12.9],[270.4,11.9],[260.2,12],[240,12],[301.5,11.65],[316.8,11.25],[276.6,11.3],[287.4,11.1],[295,10.85],[304,10.7],[282,10.55],[264.6,10.55],[256.6,10.3],[242,10.3],[273,10.1],[283.2,9.8],[325,10],[335,9.75],[299,9.4],[304.7,9.45],[307.7,9.1],[306.6,8.6],[321.5,9.2],[366,9.25],[357.7,8.7],[346.4,8.35],[320.4,7.85],[352.6,7],[356,5.55],[367,4.7],[353.3,4.35],[265.7,8.25],[271,7.7],[251,8.1],[243.8,8],[289.4,7.45],[300.4,6.65],[293,6.8],[282,6.5],[309.5,6.15],[327.7,6.2],[271,6.65],[300.4,5.75],[296.7,5.6],[313,5.15],[318.6,5.5],[325.9,5.65],[328.5,4.9],[335,4.65],[335,4.35],[293,5.15],[300.4,4.35],[309.5,3.6],[289.4,3.75],[282.8,4.8],[333,3.6],[338,3.5],[346,3.25],[359.5,3.35],[372,3.2],[358.7,2.65],[366,2.65],[379.6,2.5],[322,3.35],[323,2.8],[337.6,2.8],[313,2.85],[302,2.75],[293,2.6],[335,2],[331.4,1.75],[376.3,1.6],[384.3,1.75],[314,1.25],[305.8,1.9],[298.5,1.3],[324,1.3],[358.8,1.2],[364,0.7],[346.7,0.85],[322,0.65],[329.5,0.45],[342,0.35],[369,0.1],[373.7,0.2],[380,0.6],[376,0.45],[382.5,0.15],[390,0.15],[399,0.45],[399,0.2],[399,0.8],[399,1],[399,1.3],[399,1.6],[399,1.9],[399,2.2],[399,2.5],[399,2.8],[399,3.4],[399,3.6],[399,3.9],[399,4.1],[394,1.15],[391.6,0.95],[390,0.7],[255,6.5],[262,6],[270,5.5],[278,5.3],[262,4.8],[272,4.3],[280,3.6],[290,3],[270,2.6],[280,2.2],[292,1.8],[285,1.2],[300,0.8],[310,0.6],[295,0.9],[250,8.8],[240,9.6],[232,11.5],[226,14],[218,15],[210,17],[198,18.7],[190,19.2],[178,20.4],[170,21],[160,21.7],[150,22.3],[135,22.6],[120,22.6],[105,22.8],[90,22.3],[75,22],[65,21.6],[50,20.5],[40,20],[30,19.3],[20,18.8],[12,18.9]];

// layout, in page pixels, kept apart from the data
const layout=[
 {name:0,kind:"fat",edge:iFatEdge,floor:iFatFloor,cloud:iFatCloud,pts:iFatPoints,ticksY:suvTicksI,maxY:8,x:[71.3,445.7],y:[343.3,50.7],xl:[69,447],xlb:367,yl:65,xt:[257.5,399],yt:[45,197.5]},
 {name:0,kind:"r2",edge:iR2Edge,floor:iR2Floor,cloud:iR2Cloud,pts:iR2Points,ticksY:suvTicksI,maxY:8,x:[562.7,924.3],y:[343.3,59],xl:[556,928],xlb:365,yl:549,xt:[765.8,396.7],yt:[519,189]},
 {name:1,kind:"fat",edge:jFatEdge,floor:jFatFloor,cloud:jFatCloud,pts:jFatPoints,ticksY:suvTicksOther,maxY:25,x:[71.3,445.7],y:[752.3,459.3],xl:[73,451.7],xlb:777,yl:68,xt:[260,810],yt:[37.3,604]},
 {name:1,kind:"r2",edge:jR2Edge,floor:jR2Floor,cloud:jR2Cloud,pts:jR2Points,ticksY:suvTicksOther,maxY:25,x:[565.7,925.7],y:[753.3,471],xl:[569,935.7],xlb:776,yl:560,xt:[767,815],yt:[524,606]},
 {name:2,kind:"fat",edge:kFatEdge,floor:kFatFloor,cloud:kFatCloud,pts:kFatPoints,ticksY:suvTicksOther,maxY:25,x:[68,446.7],y:[1158.3,862.3],xl:[68,450],xlb:1182,yl:64,xt:[258,1217],yt:[30.7,1004]},
 {name:2,kind:"r2",edge:kR2Edge,floor:kR2Floor,cloud:kR2Cloud,pts:kR2Points,ticksY:suvTicksOther,maxY:25,x:[562.7,921],y:[1157.3,875],xl:[560.7,926.7],xlb:1183.5,yl:558,xt:[764.7,1218],yt:[527.7,1008]},
 {name:3,kind:"fat",edge:mFatEdge,floor:mFatFloor,cloud:mFatCloud,pts:mFatPoints,ticksY:suvTicksOther,maxY:25,x:[64.7,456.7],y:[1571.3,1264.3],xl:[65.7,461.7],xlb:1592.5,yl:61.7,xt:[258.7,1621.7],yt:[26.7,1414]},
 {name:3,kind:"r2",edge:mR2Edge,floor:mR2Floor,cloud:mR2Cloud,pts:mR2Points,ticksY:suvTicksOther,maxY:25,x:[570.7,936],y:[1571.7,1284],xl:[567,940],xlb:1594,yl:567.7,xt:[768,1624],yt:[533.3,1418]}
];
const frames=[[8.5,23.5,491,386],[491,33,963,386],[8.5,432.5,491,794],[505.5,445.5,963,792.5],[4.5,834,490,1199],[503,848,963,1195],[509.5,1257.5,963,1611]];
const titlePos=[[389,32],[388,446],[391,843],[391,1253]];
const titleFragX=[213,357,677,827];
const blue="#3a54a4";

const svg=d3.select("#c");
svg.selectAll("rect.frame").data(frames).join("rect").attr("class","frame")
  .attr("x",d=>d[0]).attr("y",d=>d[1]).attr("width",d=>d[2]-d[0]).attr("height",d=>d[3]-d[1])
  .attr("fill","none").attr("stroke","#dcdcdc");
svg.append("line").attr("x1",64.7).attr("x2",456).attr("y1",1264.3).attr("y2",1264.3).attr("stroke","#c8c8c8");

layout.forEach(p=>{
  const isFat=p.kind==="fat";
  const x=d3.scaleLinear().domain(isFat?[40,100]:[0,400]).range(p.x);
  const y=d3.scaleLinear().domain([0,p.maxY]).range(p.y);
  const xLab=d3.scaleLinear().domain(x.domain()).range(p.xl);
  const g=svg.append("g");
  const ax=g.append("g").attr("transform",`translate(0,${p.y[0]})`)
    .call(d3.axisBottom(x).tickValues(isFat?fatTicks:r2Ticks).tickSize(-3).tickSizeOuter(0));
  ax.selectAll("text").attr("x",d=>xLab(d)-x(d)).attr("y",p.xlb-p.y[0]).attr("dy",0).style("font-size","19px").style("font-family",'"Liberation Sans"');
  const ay=g.append("g").attr("transform",`translate(${p.x[0]},0)`)
    .call(d3.axisLeft(y).tickValues(p.ticksY).tickSize(-3).tickSizeOuter(0));
  ay.selectAll("text").attr("x",p.yl-p.x[0]).attr("dy","0.35em").style("font-size","19px").style("font-family",'"Liberation Sans"');
  g.selectAll(".domain,.tick line").attr("stroke","#000");
  const outline=d3.line().x(d=>x(d[0])).y(d=>y(d[1]));
  g.append("path").attr("d",outline(p.cloud)+"Z").attr("fill",blue).attr("fill-opacity",0.68);
  g.append("path").attr("d",outline(p.edge.concat(p.floor))+"Z")
    .attr("fill",blue).attr("stroke",blue).attr("stroke-width",4).attr("stroke-linejoin","round");
  g.selectAll("circle.pt").data(p.pts).join("circle").attr("class","pt")
    .attr("cx",d=>x(d[0])).attr("cy",d=>y(d[1])).attr("r",2.4)
    .attr("fill","none").attr("stroke",blue).attr("stroke-width",1.2);
  g.append("text").attr("x",p.xt[0]).attr("y",p.xt[1]).attr("text-anchor","middle")
    .style("font-size","34.5px").text(isFat?"Fat Fraction (%)":"R2* (1/s)");
  g.append("text").attr("transform",`translate(${p.yt[0]},${p.yt[1]}) rotate(-90)`).attr("text-anchor","middle")
    .style("font-size","34.5px").text("FDG uptake (SUV)");
});
svg.selectAll("text.pt").data(participantNames).join("text").attr("class","pt")
  .attr("x",(d,i)=>titlePos[i][0]).attr("y",(d,i)=>titlePos[i][1]).style("font-size","34.5px").text(d=>d);
svg.selectAll("text.frag").data(titleFragments).join("text").attr("class","frag")
  .attr("x",(d,i)=>titleFragX[i]).attr("y",-3.5).attr("text-anchor","middle")
  .style("font-size","34.5px").style("font-weight","bold").text(d=>d);
</script></body></html>
